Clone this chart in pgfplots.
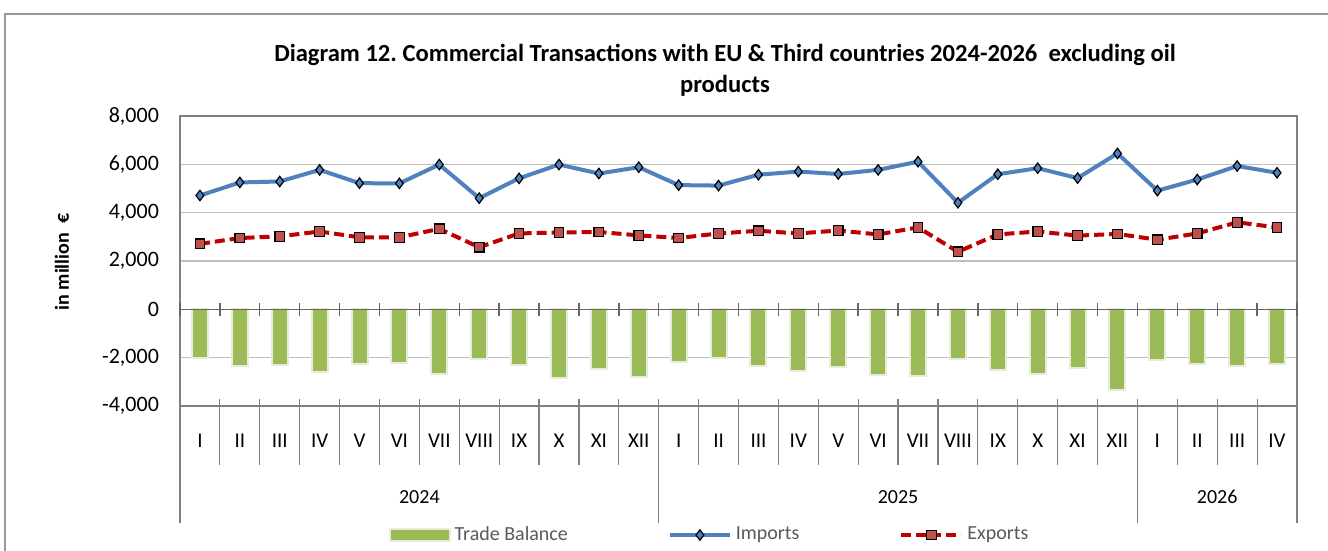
\documentclass[border=0pt]{standalone}
\usepackage{fontspec}
\setmainfont{Carlito}
\usepackage{pgfplots}
\pgfplotsset{compat=1.18}

\definecolor{tbgreen}{HTML}{9BBB59}
\definecolor{tbedge}{HTML}{E9ECD8}
\definecolor{impblue}{HTML}{4F81BD}
\definecolor{expred}{HTML}{C00000}
\definecolor{expmark}{HTML}{C0504D}
\definecolor{axgray}{HTML}{7F7F7F}
\definecolor{gridgray}{HTML}{BFBFBF}

\pgfplotsset{
  lineleg/.style={legend image code/.code={%
    \draw[##1, mark repeat=2, mark phase=2] plot coordinates {(0pt,0pt) (15pt,0pt) (30pt,0pt)};}},
  barleg/.style={legend image code/.code={%
    \fill[tbgreen, draw=tbedge] (0pt,-3.2pt) rectangle (30pt,3.2pt);}},
}

\begin{document}
\begin{tikzpicture}
\useasboundingbox (0,0) rectangle (664pt,275.5pt);
\draw[axgray!80, line width=1pt] (2.5pt,-1pt) -- (2.5pt,268.5pt) -- (665pt,268.5pt);

\node[align=center, font=\bfseries\fontsize{12.3}{15.5}\selectfont] at (362.5pt,240.5pt)
  {Diagram 12.\ Commercial Transactions with EU \& Third countries 2024-2026\ \ excluding oil\\products};
\node[rotate=90, font=\bfseries\fontsize{10}{12}\selectfont] at (31pt,144.5pt) {in million\ \ €};

\begin{axis}[
  at={(90pt,72.5pt)}, anchor=south west,
  scale only axis, width=558.5pt, height=145pt,
  xmin=-0.5, xmax=27.5,
  ymin=-4000, ymax=8000,
  ytick={-4000,-2000,...,8000},
  ymajorgrids, grid style={gridgray, line width=0.6pt},
  axis line style={axgray, line width=0.7pt},
  major tick length=0pt,
  xtick={0,...,27},
  xticklabels={I,II,III,IV,V,VI,VII,VIII,IX,X,XI,XII,I,II,III,IV,V,VI,VII,VIII,IX,X,XI,XII,I,II,III,IV},
  xticklabel style={anchor=center, yshift=-17.5pt, font=\fontsize{10.5}{12}\selectfont},
  yticklabel style={xshift=-7pt, font=\fontsize{11}{13}\selectfont},
  /pgf/number format/.cd, 1000 sep={,}, assume math mode=true, /pgfplots/.cd,
  clip=false,
  legend columns=3,
  legend style={at={(0.475,-0.445)}, anchor=center, draw=none, fill=none,
    font=\fontsize{10}{12}\selectfont, text=black!65,
    /tikz/every even column/.append style={column sep=48pt}},
]
\addplot[ybar, bar width=8pt, fill=tbgreen, draw=tbedge, line width=1pt, barleg]
coordinates {
 (0,-2000) (1,-2330) (2,-2290) (3,-2590) (4,-2250) (5,-2220) (6,-2660) (7,-2050) (8,-2290) (9,-2830) (10,-2470) (11,-2820)
 (12,-2190) (13,-2010) (14,-2350) (15,-2560) (16,-2390) (17,-2710) (18,-2740) (19,-2040) (20,-2490) (21,-2660) (22,-2440) (23,-3340)
 (24,-2080) (25,-2260) (26,-2350) (27,-2270)
};
\addlegendentry{Trade Balance}

\draw[black!60, line width=0.8pt] (axis cs:-0.5,0) -- (axis cs:27.5,0);
\pgfplotsinvokeforeach{-0.5,0.5,...,27.5}{
  \draw[black!60, line width=0.7pt] (axis cs:#1,0) ++(0pt,3.2pt) -- ++(0pt,-6.4pt);
  \draw[axgray, line width=0.6pt] (axis cs:#1,-4000) ++(0pt,3.5pt) -- ++(0pt,-33pt);
}
\pgfplotsinvokeforeach{-0.5,11.5,23.5,27.5}{
  \draw[axgray, line width=0.6pt] (axis cs:#1,-4000) -- ++(0pt,-58.5pt);
}
\node[font=\fontsize{10}{12}\selectfont] at (axis cs:5.5,-4000) [yshift=-45.5pt] {2024};
\node[font=\fontsize{10}{12}\selectfont] at (axis cs:17.5,-4000) [yshift=-45.5pt] {2025};
\node[font=\fontsize{10}{12}\selectfont] at (axis cs:25.5,-4000) [yshift=-45.5pt] {2026};

\addplot[impblue, line width=2pt, mark=diamond*, mark size=2.6pt,
  mark options={solid, fill=impblue, draw=black, line width=0.6pt}, lineleg]
coordinates {
 (0,4710) (1,5250) (2,5290) (3,5770) (4,5220) (5,5210) (6,5990) (7,4600) (8,5420) (9,5990) (10,5620) (11,5880)
 (12,5140) (13,5120) (14,5570) (15,5700) (16,5600) (17,5770) (18,6110) (19,4410) (20,5590) (21,5840) (22,5430) (23,6450)
 (24,4910) (25,5370) (26,5930) (27,5650)
};
\addlegendentry{Imports}

\addplot[expred, line width=2pt, dash pattern=on 5pt off 2.5pt, mark=square*, mark size=2.4pt,
  mark options={solid, fill=expmark, draw=black, line width=0.6pt}, lineleg]
coordinates {
 (0,2710) (1,2950) (2,3020) (3,3220) (4,2980) (5,2980) (6,3330) (7,2570) (8,3140) (9,3180) (10,3200) (11,3060)
 (12,2950) (13,3140) (14,3250) (15,3140) (16,3260) (17,3100) (18,3390) (19,2380) (20,3100) (21,3220) (22,3050) (23,3120)
 (24,2880) (25,3140) (26,3600) (27,3390)
};
\addlegendentry{Exports}
\end{axis}
\end{tikzpicture}
\end{document}
